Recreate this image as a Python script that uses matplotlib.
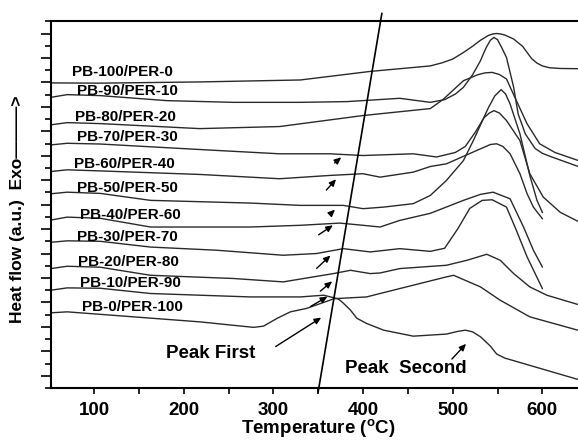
import numpy as np
import matplotlib
matplotlib.use('Agg')
import matplotlib.pyplot as plt

plt.rcParams['font.family'] = ['Liberation Sans', 'DejaVu Sans']
plt.rcParams['font.weight'] = 'bold'
plt.rcParams['mathtext.fontset'] = 'custom'
plt.rcParams['mathtext.bf'] = 'Liberation Sans:bold'
plt.rcParams['mathtext.rm'] = 'Liberation Sans:bold'

# sample names, top to bottom
names = ['PB-100/PER-0', 'PB-90/PER-10', 'PB-80/PER-20', 'PB-70/PER-30',
         'PB-60/PER-40', 'PB-50/PER-50', 'PB-40/PER-60', 'PB-30/PER-70',
         'PB-20/PER-80', 'PB-10/PER-90', 'PB-0/PER-100']

# DSC traces: temperature (C), heat flow (a.u., stacked)
t_pb100 = [52, 107, 218, 330, 408, 475, 488, 500, 512, 522, 531, 540, 545, 549, 553, 558, 568, 578, 583, 588, 594, 600, 608, 620, 642]
hf_pb100 = [24.96, 24.94, 25.04, 25.20, 25.90, 26.35, 26.60, 26.91, 27.45, 27.95, 28.45, 28.85, 28.97, 29.00, 28.97, 28.88, 28.55, 27.95, 27.45, 26.95, 26.58, 26.35, 26.20, 26.14, 26.12]

t_pb90 = [52, 70, 107, 181, 255, 330, 382, 441, 475, 491, 503, 512, 522, 531, 537, 542, 546, 550, 555, 560, 568, 573, 581, 592, 600, 609, 642]
hf_pb90 = [23.78, 24.00, 23.92, 23.51, 23.37, 23.37, 23.43, 23.70, 23.37, 23.59, 24.05, 24.60, 25.60, 26.78, 27.80, 28.45, 28.68, 28.50, 27.80, 27.04, 24.60, 22.42, 20.79, 19.59, 19.20, 18.94, 18.07]

t_pb80 = [52, 70, 107, 218, 307, 400, 475, 489, 512, 528, 536, 544, 552, 560, 571, 583, 597, 614, 642]
hf_pb80 = [21.53, 21.71, 21.63, 21.22, 21.39, 22.29, 22.86, 23.59, 25.14, 25.63, 25.78, 25.82, 25.65, 25.28, 23.51, 21.61, 19.98, 19.27, 18.56]

t_pb70 = [52, 70, 107, 218, 307, 363, 400, 456, 482, 503, 514, 525, 535, 541, 546, 552, 560, 575, 586, 601, 620, 642]
hf_pb70 = [19.89, 20.02, 19.96, 19.51, 19.16, 19.16, 19.02, 19.16, 18.90, 19.27, 19.76, 20.90, 22.12, 22.50, 22.69, 22.50, 21.88, 20.24, 17.53, 15.62, 14.37, 13.55]

t_pb60 = [52, 70, 107, 218, 307, 363, 400, 419, 456, 475, 493, 519, 542, 549, 556, 564, 575, 583, 590, 600]
hf_pb60 = [17.71, 17.85, 17.76, 17.47, 17.12, 17.39, 17.53, 17.25, 17.66, 18.12, 18.34, 19.18, 19.92, 19.98, 19.76, 19.16, 17.53, 15.89, 14.80, 13.85]

t_pb50 = [52, 70, 107, 163, 274, 330, 378, 400, 423, 456, 475, 493, 512, 523, 540, 547, 554, 559, 564, 575, 586, 594, 600]
hf_pb50 = [15.89, 16.02, 15.92, 15.35, 15.13, 14.94, 14.94, 14.67, 14.80, 15.08, 15.75, 16.98, 18.61, 20.24, 22.96, 23.90, 24.41, 24.05, 23.24, 20.79, 17.39, 15.35, 14.37]

t_pb40 = [52, 70, 107, 163, 274, 330, 374, 400, 419, 441, 475, 512, 531, 545, 564, 579, 590, 600]
hf_pb40 = [13.74, 13.98, 13.88, 13.17, 13.17, 13.31, 13.49, 13.31, 13.17, 13.71, 14.29, 15.35, 15.84, 16.02, 15.48, 13.17, 11.27, 9.90]

t_pb30 = [52, 70, 107, 163, 237, 311, 348, 378, 408, 441, 475, 491, 506, 519, 533, 544, 560, 571, 583, 600]
hf_pb30 = [11.92, 12.04, 12.00, 11.53, 11.27, 10.86, 11.00, 11.40, 11.13, 11.40, 11.18, 11.43, 13.06, 14.69, 15.35, 15.40, 14.80, 12.90, 10.72, 8.14]

t_pb20 = [52, 70, 107, 163, 255, 311, 367, 386, 408, 419, 441, 493, 516, 538, 553, 568, 586, 605, 642]
hf_pb20 = [9.77, 9.96, 9.88, 9.22, 8.96, 8.68, 9.36, 9.63, 9.36, 9.41, 9.77, 10.04, 10.45, 10.94, 10.45, 9.36, 8.27, 7.59, 6.78]

t_pb10 = [52, 70, 107, 163, 274, 330, 356, 371, 404, 419, 456, 493, 501, 531, 553, 586, 642]
hf_pb10 = [8.00, 8.19, 8.16, 7.73, 7.45, 7.45, 7.59, 7.32, 7.45, 7.73, 8.41, 9.09, 9.22, 8.27, 7.18, 5.82, 4.68]

t_pb0 = [52, 70, 144, 218, 278, 289, 304, 319, 337, 363, 367, 371, 374, 378, 386, 393, 404, 423, 456, 493, 505, 514, 522, 531, 542, 549, 558, 642]
hf_pb0 = [6.15, 6.23, 5.82, 5.41, 4.96, 5.06, 5.69, 6.23, 6.51, 7.18, 7.30, 7.32, 7.20, 6.94, 6.37, 5.71, 5.28, 4.73, 4.24, 4.41, 4.62, 4.73, 4.60, 4.19, 3.43, 2.78, 2.45, 0.65]

temps = [t_pb100, t_pb90, t_pb80, t_pb70, t_pb60, t_pb50, t_pb40, t_pb30, t_pb20, t_pb10, t_pb0]
flows = [hf_pb100, hf_pb90, hf_pb80, hf_pb70, hf_pb60, hf_pb50, hf_pb40, hf_pb30, hf_pb20, hf_pb10, hf_pb0]

# where each name sits
label_t = [75, 81, 79, 81, 78, 81, 84, 81, 82, 84, 87]
label_hf = [25.89, 24.29, 22.18, 20.55, 18.31, 16.34, 14.15, 12.35, 10.29, 8.59, 6.64]

# first-peak guide line and small arrows (tail -> head)
guide_t = [350, 421]
guide_hf = [-0.3, 30.64]
arrow_tail = [(366, 18.26), (357, 16.02), (362, 14.12), (348, 12.41), (346, 9.63), (350, 7.78), (339, 6.56)]
arrow_head = [(378, 19.02), (372, 17.25), (371, 14.75), (369, 13.44), (366, 11.00), (368, 8.87), (363, 7.59)]

fig = plt.figure(figsize=(5.78, 4.42), dpi=100)
ax = fig.add_axes([0.0882, 0.1222, 0.9277, 0.8296])

for t, hf in zip(temps, flows):
    ax.plot(t, hf, color='#2a2a2a', lw=1.0)

for name, x, y in zip(names, label_t, label_hf):
    ax.text(x, y, name, fontsize=11, fontweight='bold', va='center', ha='left')

ax.plot(guide_t, guide_hf, color='black', lw=1.2, clip_on=False)

head = '-|>,head_length=0.4,head_width=0.18'
for tail, tip in zip(arrow_tail, arrow_head):
    ax.annotate('', xy=tip, xytext=tail,
                arrowprops=dict(arrowstyle=head, color='black', lw=1.0))

ax.annotate('', xy=(356, 5.88), xytext=(300, 3.27),
            arrowprops=dict(arrowstyle=head, color='black', lw=1.0))
ax.annotate('', xy=(517, 3.78), xytext=(497, 2.20),
            arrowprops=dict(arrowstyle=head, color='black', lw=1.0))
ax.text(180, 2.86, 'Peak First', fontsize=13.5, fontweight='bold', va='center', ha='left')
ax.text(380, 1.63, 'Peak  Second', fontsize=13.5, fontweight='bold', va='center', ha='left')

ax.set_xlim(52, 650)
ax.set_ylim(0, 30)
ax.set_xticks([100, 200, 300, 400, 500, 600])
ax.set_xticks([150, 250, 350, 450, 550, 650], minor=True)
ax.set_yticks(np.arange(1, 30, 2))
ax.set_yticks(np.arange(0, 31, 2), minor=True)
ax.set_yticklabels([])
ax.tick_params(axis='x', which='both', direction='out', length=4, width=1.2, labelsize=13.5, pad=6)
ax.tick_params(axis='y', which='major', direction='out', length=7, width=1.2)
ax.tick_params(axis='y', which='minor', direction='out', length=4, width=1.2)
for lab in ax.get_xticklabels():
    lab.set_fontweight('bold')
for side in ['left', 'bottom', 'top']:
    ax.spines[side].set_linewidth(1.5)
ax.spines['right'].set_visible(False)

fig.text(0.55, 0.03, r'Temperature ($^\mathbf{o}$C)', fontsize=13.5, fontweight='bold', ha='center', va='center')
fig.text(0.03, 0.527, 'Heat flow (a.u.)  Exo\u2014\u2014\u2014>', fontsize=12.5, fontweight='bold',
         rotation=90, ha='center', va='center')

fig.savefig('out.png', dpi=100)
